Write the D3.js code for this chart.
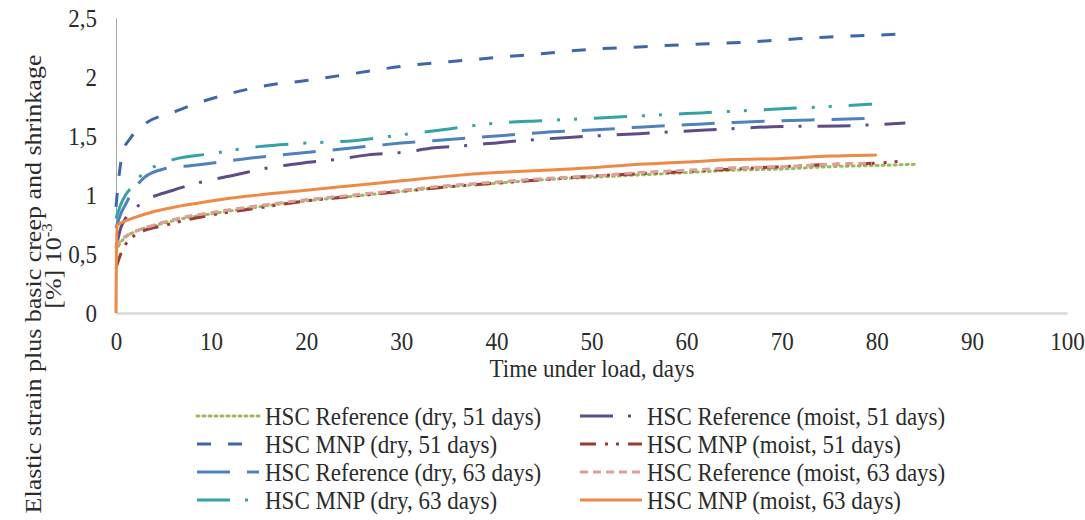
<!DOCTYPE html>
<html>
<head>
<meta charset="utf-8">
<script src="https://cdn.jsdelivr.net/npm/d3@7"></script>
<style>
  body { margin: 0; background: #fff; }
  text { font-family: "Liberation Serif", "Times New Roman", serif; fill: #2b2b2b; }
</style>
</head>
<body>
<div id="chart"></div>
<script>
// time under load (days) and strain values for each series
const refDry51Days = [0, 0.5, 1, 2, 3, 5, 7, 10, 15, 20, 25, 30, 35, 40, 45, 50, 55, 60, 65, 70, 75, 80, 84];
const refDry51 = [0.52, 0.6, 0.64, 0.69, 0.72, 0.76, 0.8, 0.84, 0.9, 0.95, 0.99, 1.03, 1.07, 1.1, 1.13, 1.15, 1.17, 1.19, 1.21, 1.22, 1.24, 1.25, 1.26];

const mnpDry51Days = [0, 0.3, 0.7, 1.5, 3, 6, 9, 12, 16, 20, 25, 30, 35, 40, 45, 50, 55, 60, 65, 70, 75, 80, 83];
const mnpDry51 = [0.9, 1.15, 1.36, 1.48, 1.6, 1.7, 1.79, 1.86, 1.93, 1.97, 2.03, 2.09, 2.13, 2.165, 2.2, 2.235, 2.255, 2.275, 2.29, 2.315, 2.34, 2.355, 2.365];

const refDry63Days = [0, 0.5, 1, 2, 3, 5, 8, 10, 15, 20, 25, 30, 35, 40, 45, 50, 55, 60, 65, 70, 75, 79.5];
const refDry63 = [0.72, 0.84, 0.92, 1.06, 1.15, 1.22, 1.25, 1.27, 1.32, 1.36, 1.4, 1.44, 1.47, 1.5, 1.53, 1.55, 1.575, 1.595, 1.615, 1.63, 1.64, 1.65];

const mnpDry63Days = [0, 0.5, 1, 1.7, 2.8, 4, 6, 10, 15, 20, 25, 30, 35, 40, 45, 50, 55, 60, 65, 70, 75, 79.5];
const mnpDry63 = [0.8, 0.92, 1.0, 1.07, 1.18, 1.24, 1.3, 1.35, 1.41, 1.44, 1.46, 1.51, 1.56, 1.61, 1.63, 1.65, 1.67, 1.69, 1.71, 1.73, 1.75, 1.77];

const refMoist51Days = [0, 0.5, 1, 2.7, 6, 9, 12.5, 16, 19.5, 23, 26.5, 30, 33.5, 37, 41, 48, 55, 62, 70, 76, 83];
const refMoist51 = [0.55, 0.72, 0.8, 0.93, 1.04, 1.11, 1.17, 1.23, 1.27, 1.3, 1.34, 1.36, 1.4, 1.42, 1.45, 1.49, 1.52, 1.55, 1.58, 1.585, 1.61];

const mnpMoist51Days = [0, 0.5, 1, 2, 3, 5, 7, 10, 15, 20, 25, 30, 35, 40, 45, 50, 55, 60, 65, 70, 75, 80, 83];
const mnpMoist51 = [0.38, 0.5, 0.58, 0.66, 0.7, 0.74, 0.78, 0.83, 0.89, 0.95, 0.99, 1.03, 1.07, 1.1, 1.13, 1.16, 1.18, 1.2, 1.22, 1.24, 1.26, 1.27, 1.29];

const refMoist63Days = [0, 0.5, 1, 2, 3, 5, 7, 10, 15, 20, 25, 30, 35, 40, 45, 50, 55, 60, 65, 70, 75, 79.5];
const refMoist63 = [0.55, 0.62, 0.65, 0.69, 0.72, 0.77, 0.81, 0.85, 0.91, 0.96, 1.0, 1.04, 1.08, 1.11, 1.14, 1.16, 1.19, 1.21, 1.23, 1.24, 1.26, 1.27];

const mnpMoist63Days = [0, 0.1, 1, 2, 4, 7, 10, 15, 20, 25, 30, 35, 40, 45, 50, 55, 60, 65, 70, 75, 80];
const mnpMoist63 = [0, 0.74, 0.78, 0.81, 0.86, 0.91, 0.95, 1.0, 1.04, 1.08, 1.12, 1.16, 1.19, 1.21, 1.23, 1.26, 1.28, 1.3, 1.31, 1.33, 1.34];

const xTicks = [0, 10, 20, 30, 40, 50, 60, 70, 80, 90, 100];
const yTicks = [0, 0.5, 1, 1.5, 2, 2.5];
const yTickLabels = ["0", "0,5", "1", "1,5", "2", "2,5"];

const seriesNames = [
  "HSC Reference (dry, 51 days)", "HSC MNP (dry, 51 days)",
  "HSC Reference (dry, 63 days)", "HSC MNP (dry, 63 days)",
  "HSC Reference (moist, 51 days)", "HSC MNP (moist, 51 days)",
  "HSC Reference (moist, 63 days)", "HSC MNP (moist, 63 days)"
];

// build the series table from the arrays above
const series = [
  {days: refDry51Days, vals: refDry51, color: "#9bbb59", dash: "2,4", cap: "round"},
  {days: mnpDry51Days, vals: mnpDry51, color: "#3d67a8", dash: "14,17"},
  {days: refDry63Days, vals: refDry63, color: "#4f81bd", dash: "33,17"},
  {days: mnpDry63Days, vals: mnpDry63, color: "#35a2a6", dash: "33,15,3,14,3,17"},
  {days: refMoist51Days, vals: refMoist51, color: "#5f4b85", dash: "33,15,3,16"},
  {days: mnpMoist51Days, vals: mnpMoist51, color: "#9c3a36", dash: "16,9,3,8,3,9"},
  {days: refMoist63Days, vals: refMoist63, color: "#dc9f9b", dash: "8,5"},
  {days: mnpMoist63Days, vals: mnpMoist63, color: "#ef8a46", dash: null}
].map((s, i) => ({...s, name: seriesNames[i], points: s.days.map((d, j) => [d, s.vals[j]])}));

const W = 1085, H = 520;
const FS = 23;          // font size
const STRETCH = 1.13;   // text in the picture is a bit taller than wide

const svg = d3.select("#chart").append("svg")
  .attr("width", W).attr("height", H);

const x = d3.scaleLinear().domain([0, 100]).range([116, 1067]);
const y = d3.scaleLinear().domain([0, 2.5]).range([313, 18]);

// x axis
const xAxis = svg.append("g")
  .attr("transform", `translate(0, ${y(0)})`)
  .call(d3.axisBottom(x).tickValues(xTicks).tickSize(0).tickPadding(16).tickFormat(d3.format("d")));
xAxis.select(".domain").attr("stroke", "#d9d9d9").attr("stroke-width", 2.5);
xAxis.selectAll("text").attr("font-size", FS).attr("fill", "#2b2b2b")
  .attr("transform", `scale(1, ${STRETCH})`)
  .style("font-family", "'Liberation Serif', serif");

// y axis
const yAxis = svg.append("g")
  .attr("transform", `translate(${x(0)}, 0)`)
  .call(d3.axisLeft(y).tickValues(yTicks).tickSize(0).tickPadding(19)
    .tickFormat((d, i) => yTickLabels[i]));
yAxis.select(".domain").attr("stroke", "#a6a6a6").attr("stroke-width", 1);
yAxis.selectAll("text").attr("font-size", FS).attr("fill", "#2b2b2b")
  .attr("transform", `scale(1, ${STRETCH})`)
  .style("font-family", "'Liberation Serif', serif");

// lines
const line = d3.line()
  .x(d => x(d[0]))
  .y(d => y(d[1]))
  .curve(d3.curveMonotoneX);

svg.append("g")
  .selectAll("path")
  .data(series)
  .join("path")
  .attr("d", d => line(d.points))
  .attr("fill", "none")
  .attr("stroke", d => d.color)
  .attr("stroke-width", 3)
  .attr("stroke-linecap", d => d.cap || "butt")
  .attr("stroke-dasharray", d => d.dash);

// axis titles
svg.append("text")
  .attr("transform", `translate(592, 377) scale(1, ${STRETCH})`)
  .attr("text-anchor", "middle")
  .attr("font-size", FS)
  .text("Time under load, days");

svg.append("text")
  .attr("transform", `translate(41, 284) rotate(-90) scale(${STRETCH}, 1)`)
  .attr("text-anchor", "middle")
  .attr("font-size", FS)
  .text("Elastic strain plus basic creep and shrinkage");

const yt2 = svg.append("text")
  .attr("transform", `translate(61, 266) rotate(-90) scale(${STRETCH}, 1)`)
  .attr("text-anchor", "middle")
  .attr("font-size", FS);
yt2.append("tspan").text("[%]  10");
yt2.append("tspan").attr("font-size", 15).attr("dy", -9).text("-3");

// legend, two columns of four
const legendCols = [{sx: 197, tx: 265}, {sx: 580, tx: 647}];
const legendRows = [416, 444, 472, 500];
const col = i => legendCols[Math.floor(i / 4)];

const legend = svg.append("g")
  .selectAll("g")
  .data(series)
  .join("g")
  .attr("transform", (d, i) => `translate(0, ${legendRows[i % 4]})`);

legend.append("line")
  .attr("x1", (d, i) => col(i).sx)
  .attr("x2", (d, i) => col(i).sx + 62)
  .attr("y1", 0).attr("y2", 0)
  .attr("stroke", d => d.color)
  .attr("stroke-width", 3)
  .attr("stroke-linecap", d => d.cap || "butt")
  .attr("stroke-dasharray", d => d.dash);

legend.append("text")
  .attr("transform", (d, i) => `translate(${col(i).tx}, 0) scale(1, ${STRETCH})`)
  .attr("dy", "0.35em")
  .attr("font-size", FS)
  .text(d => d.name);
</script>
</body>
</html>
